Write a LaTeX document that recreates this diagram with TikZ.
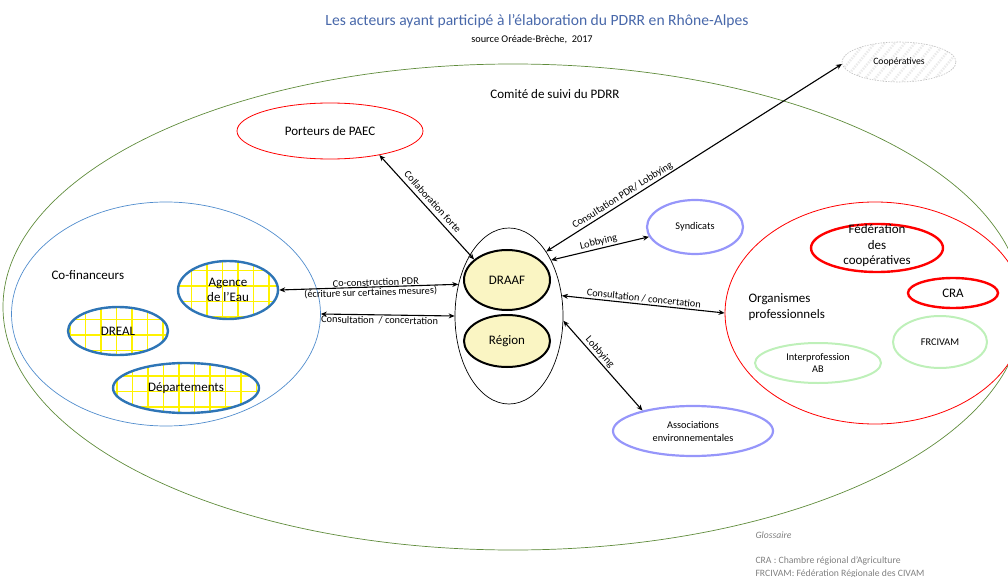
\documentclass[tikz,border=0pt]{standalone}
\usepackage{fontspec}
\setmainfont{Carlito}
\usetikzlibrary{shapes.geometric,arrows.meta}

\definecolor{comgreen}{RGB}{96,140,60}
\definecolor{cofblue}{RGB}{80,140,205}
\definecolor{deepblue}{RGB}{46,117,182}
\definecolor{lavender}{RGB}{150,150,250}
\definecolor{palegreen}{RGB}{190,240,185}
\definecolor{cream}{RGB}{250,245,195}
\definecolor{titleblue}{RGB}{72,104,170}
\definecolor{glossgray}{RGB}{128,128,128}

\begin{document}
\begin{tikzpicture}[x=1pt,y=-1pt,
  ell/.style={ellipse, inner sep=0pt, align=center},
  sz/.style 2 args={minimum width=#1pt, minimum height=#2pt},
  big/.style={font=\fontsize{13}{15}\selectfont},
  small/.style={font=\fontsize{10.3}{13}\selectfont},
  redthin/.style={ell, draw=red, line width=0.8pt},
  redthick/.style={ell, draw=red, line width=2.4pt},
  lav/.style={ell, draw=lavender, line width=2.2pt, small},
  pgreen/.style={ell, draw=palegreen, line width=2pt, small},
  core/.style={ell, draw=black, line width=2pt, fill=cream, big},
  gridfill/.style={ell, draw=deepblue, line width=2.4pt, big, fill=white,
    path picture={\draw[yellow, line width=1.5pt]
      (path picture bounding box.south west) grid[step=15.5pt]
      (path picture bounding box.north east);}},
  hatch/.style={ell, draw=black!25, dash pattern=on 1.5pt off 1.2pt, line width=0.6pt,
    font=\fontsize{9.7}{11}\selectfont,
    path picture={\foreach \k in {-130,-120,...,130}
      \draw[line width=2.5pt, black!8] ([xshift=\k pt]path picture bounding box.center)
        ++(-25pt,-30pt) -- ++(50pt,60pt);}},
  link/.style={<->, >={Stealth[length=6pt,width=5pt]}, line width=1.1pt},
  lab/.style={font=\fontsize{10.3}{11}\selectfont, inner sep=1.5pt, sloped}
]
\useasboundingbox (0,0) rectangle (1008,577);

% heading
\node[text=titleblue, font=\fontsize{15.6}{18}\selectfont] (title) at (537,21)
  {Les acteurs ayant participé à l’élaboration du PDRR en Rhône-Alpes};
\node[font=\fontsize{10.3}{12}\selectfont] (source) at (532,40) {source Oréade-Brèche,\ \ 2017};

% follow-up committee
\node[ell, draw=comgreen, line width=0.7pt, sz={1020}{486}] (comite) at (513,307) {};
\node[big] (comitetxt) at (555,94) {Comité de suivi du PDRR};

% co-financers
\node[ell, draw=cofblue, line width=0.7pt, sz={309}{224}] (cof) at (166,314) {};
\node[big, anchor=west] (coftxt) at (48,275) {Co-financeurs};
\node[gridfill, sz={100}{58}] (agence) at (228,290) {Agence\\de l’Eau};
\node[gridfill, sz={100}{48}] (dreal) at (118,331) {DREAL};
\node[gridfill, sz={146}{50}] (dep) at (186,388) {Départements};

% central actors
\node[ell, draw=black, line width=0.7pt, sz={108}{176}] (cont) at (509,316) {};
\node[core, sz={86}{60}] (draaf) at (507,280) {DRAAF};
\node[core, sz={86}{52}] (region) at (507,341) {Région};

% other actors
\node[redthin, big, sz={186}{56}] (paec) at (330,131) {Porteurs de PAEC};
\node[hatch, sz={114}{40}] (coop) at (899,62) {Coopératives};
\node[lav, sz={96}{54}] (synd) at (695,227) {Syndicats};
\node[lav, sz={160}{50}] (assoc) at (693,431) {Associations\\environnementales};

% professional organisations
\node[redthin, sz={300}{222}] (org) at (875,313) {};
\node[big, anchor=west, align=left, font=\fontsize{13}{16}\selectfont] (orgtxt) at (745,307)
  {Organismes\\professionnels};
\node[redthick, sz={132}{48}] (fed) at (877,248) {};
\node[big, align=center, font=\fontsize{13}{15.5}\selectfont] (fedtxt) at (877,246)
  {Fédération\\des\\coopératives};
\node[redthick, big, sz={90}{30}] (cra) at (953,293) {CRA};
\node[pgreen, sz={94}{52}] (frcivam) at (940,342) {FRCIVAM};
\node[pgreen, sz={126}{40}, font=\fontsize{10.3}{12.5}\selectfont] (interpro) at (818,363) {Interprofession\\AB};

% relations
\draw[link] (paec.-26) -- node[lab, above, inner sep=4pt] {Collaboration forte} (draaf.148);
\draw[link] (cont.60) -- node[lab, above, pos=0.27] {Consultation PDR/ Lobbying} (coop.182);
\draw[link] (cont.53) -- node[lab, above] {Lobbying} (synd.192);
\draw[link] (cont.21) -- node[lab, above] {Consultation / concertation} (org.west);
\draw[link] (cont.-5) -- node[lab, above, pos=0.4] {Lobbying} (assoc.158);
\draw[link] (agence.east) --
  node[lab, above, pos=0.54, inner sep=0.6pt] {Co-construction PDR}
  node[lab, below, pos=0.51, inner sep=0.6pt] {(écriture sur certaines mesures)} (cont.148);
\draw[link] (cof.east) -- node[lab, below, pos=0.44, inner sep=1pt] {Consultation\ \ /\ concertation} (cont.180);

% glossary
\node[text=glossgray, anchor=west, font=\fontsize{9.7}{11}\itshape] (gloss) at (752,535) {Glossaire};
\node[text=glossgray, anchor=west, align=left, font=\fontsize{9.7}{13}\selectfont] (glosstxt) at (752,567)
  {CRA : Chambre régional d’Agriculture\\FRCIVAM: Fédération Régionale des CIVAM};
\end{tikzpicture}
\end{document}
